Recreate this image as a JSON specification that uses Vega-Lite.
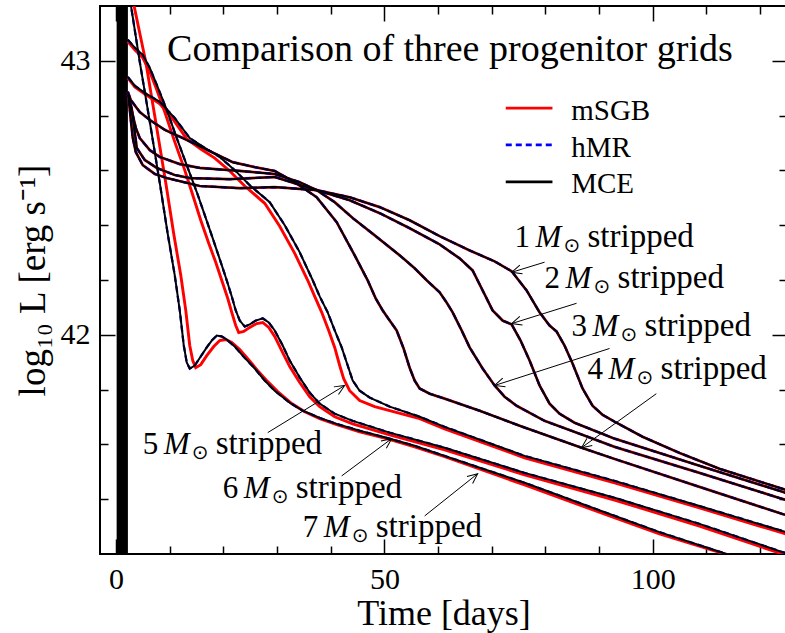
{
  "$schema": "https://vega.github.io/schema/vega-lite/v6.json",
  "width": 687,
  "height": 548,
  "autosize": {"type": "none"},
  "padding": {"left": 100, "top": 6, "right": 0, "bottom": 79},
  "background": "white",
  "config": {
    "view": {"stroke": "black", "strokeWidth": 2},
    "font": "Liberation Serif",
    "axis": {
      "domain": false,
      "grid": false,
      "labelOverlap": false,
      "labelBound": false,
      "labelFlush": false,
      "tickColor": "black",
      "tickWidth": 1.5,
      "labelFont": "Liberation Serif",
      "labelFontSize": 30,
      "labelColor": "black",
      "titleFont": "Liberation Serif",
      "titleFontSize": 36,
      "titleFontWeight": "normal",
      "titleColor": "black",
      "zindex": 1
    }
  },
  "datasets": {
    "mce": [
      {"m":1,"t":2.37,"L":42.857},{"m":1,"t":2.74,"L":42.784},{"m":1,"t":3.11,"L":42.718},{"m":1,"t":3.67,"L":42.667},{"m":1,"t":4.97,"L":42.619},{"m":1,"t":7.21,"L":42.587},{"m":1,"t":9.44,"L":42.572},{"m":1,"t":15.59,"L":42.543},{"m":1,"t":23.04,"L":42.535},{"m":1,"t":29.55,"L":42.539},{"m":1,"t":37.37,"L":42.528},{"m":1,"t":43.52,"L":42.502},{"m":1,"t":49.11,"L":42.466},{"m":1,"t":54.69,"L":42.418},{"m":1,"t":60.28,"L":42.36},{"m":1,"t":65.87,"L":42.308},{"m":1,"t":70.52,"L":42.268},{"m":1,"t":73.69,"L":42.232},{"m":1,"t":76.48,"L":42.162},{"m":1,"t":78.9,"L":42.082},{"m":1,"t":80.76,"L":42.034},{"m":1,"t":82.07,"L":42.012},{"m":1,"t":83.55,"L":41.961},{"m":1,"t":85.05,"L":41.895},{"m":1,"t":86.91,"L":41.804},{"m":1,"t":88.77,"L":41.741},{"m":1,"t":90.63,"L":41.708},{"m":1,"t":92.87,"L":41.683},{"m":1,"t":98.08,"L":41.628},{"m":1,"t":104.97,"L":41.569},{"m":1,"t":112.42,"L":41.511},{"m":1,"t":124.15,"L":41.438},{"m":1,"t":125.46,"L":41.43},
      {"m":2,"t":2.37,"L":42.865},{"m":2,"t":2.92,"L":42.821},{"m":2,"t":3.3,"L":42.766},{"m":2,"t":3.85,"L":42.682},{"m":2,"t":5.34,"L":42.638},{"m":2,"t":7.58,"L":42.609},{"m":2,"t":10.93,"L":42.583},{"m":2,"t":13.72,"L":42.572},{"m":2,"t":21.17,"L":42.568},{"m":2,"t":29.55,"L":42.576},{"m":2,"t":37.37,"L":42.528},{"m":2,"t":43.52,"L":42.491},{"m":2,"t":49.11,"L":42.444},{"m":2,"t":54.69,"L":42.389},{"m":2,"t":60.28,"L":42.33},{"m":2,"t":64.0,"L":42.279},{"m":2,"t":66.42,"L":42.235},{"m":2,"t":68.29,"L":42.162},{"m":2,"t":70.15,"L":42.089},{"m":2,"t":72.01,"L":42.052},{"m":2,"t":73.69,"L":42.038},{"m":2,"t":75.36,"L":41.979},{"m":2,"t":77.04,"L":41.906},{"m":2,"t":78.9,"L":41.815},{"m":2,"t":80.76,"L":41.749},{"m":2,"t":82.62,"L":41.712},{"m":2,"t":85.42,"L":41.679},{"m":2,"t":92.87,"L":41.621},{"m":2,"t":108.69,"L":41.522},{"m":2,"t":124.15,"L":41.427},{"m":2,"t":125.46,"L":41.419},
      {"m":3,"t":2.18,"L":42.876},{"m":3,"t":2.74,"L":42.839},{"m":3,"t":3.11,"L":42.802},{"m":3,"t":3.67,"L":42.755},{"m":3,"t":4.41,"L":42.718},{"m":3,"t":6.28,"L":42.674},{"m":3,"t":8.14,"L":42.649},{"m":3,"t":11.86,"L":42.623},{"m":3,"t":15.59,"L":42.609},{"m":3,"t":23.04,"L":42.598},{"m":3,"t":29.55,"L":42.587},{"m":3,"t":34.21,"L":42.557},{"m":3,"t":37.37,"L":42.528},{"m":3,"t":40.73,"L":42.484},{"m":3,"t":44.08,"L":42.426},{"m":3,"t":48.18,"L":42.363},{"m":3,"t":52.83,"L":42.29},{"m":3,"t":55.62,"L":42.243},{"m":3,"t":57.86,"L":42.199},{"m":3,"t":60.28,"L":42.155},{"m":3,"t":61.58,"L":42.118},{"m":3,"t":62.7,"L":42.082},{"m":3,"t":64.38,"L":42.016},{"m":3,"t":65.87,"L":41.954},{"m":3,"t":68.29,"L":41.877},{"m":3,"t":70.52,"L":41.815},{"m":3,"t":72.38,"L":41.774},{"m":3,"t":74.62,"L":41.741},{"m":3,"t":79.83,"L":41.686},{"m":3,"t":86.35,"L":41.639},{"m":3,"t":92.87,"L":41.591},{"m":3,"t":108.69,"L":41.496},{"m":3,"t":124.15,"L":41.401},{"m":3,"t":125.46,"L":41.394},
      {"m":4,"t":2.18,"L":42.887},{"m":4,"t":2.74,"L":42.857},{"m":4,"t":4.41,"L":42.813},{"m":4,"t":6.28,"L":42.784},{"m":4,"t":9.07,"L":42.748},{"m":4,"t":12.42,"L":42.718},{"m":4,"t":17.08,"L":42.674},{"m":4,"t":21.73,"L":42.63},{"m":4,"t":25.83,"L":42.612},{"m":4,"t":29.55,"L":42.598},{"m":4,"t":33.28,"L":42.557},{"m":4,"t":37.37,"L":42.502},{"m":4,"t":41.1,"L":42.411},{"m":4,"t":44.45,"L":42.29},{"m":4,"t":46.87,"L":42.199},{"m":4,"t":48.36,"L":42.133},{"m":4,"t":49.67,"L":42.089},{"m":4,"t":50.97,"L":42.052},{"m":4,"t":52.27,"L":42.016},{"m":4,"t":53.57,"L":41.95},{"m":4,"t":54.69,"L":41.88},{"m":4,"t":55.62,"L":41.833},{"m":4,"t":56.56,"L":41.804},{"m":4,"t":58.42,"L":41.785},{"m":4,"t":61.21,"L":41.767},{"m":4,"t":67.73,"L":41.723},{"m":4,"t":75.18,"L":41.668},{"m":4,"t":86.72,"L":41.588},{"m":4,"t":92.87,"L":41.547},{"m":4,"t":108.69,"L":41.445},{"m":4,"t":124.15,"L":41.346},{"m":4,"t":125.46,"L":41.339},
      {"m":5,"t":2.18,"L":42.941},{"m":5,"t":3.48,"L":42.909},{"m":5,"t":5.34,"L":42.883},{"m":5,"t":8.14,"L":42.85},{"m":5,"t":10.93,"L":42.791},{"m":5,"t":13.72,"L":42.718},{"m":5,"t":16.52,"L":42.682},{"m":5,"t":19.31,"L":42.649},{"m":5,"t":22.1,"L":42.601},{"m":5,"t":24.9,"L":42.546},{"m":5,"t":28.62,"L":42.484},{"m":5,"t":31.42,"L":42.4},{"m":5,"t":34.21,"L":42.301},{"m":5,"t":36.63,"L":42.199},{"m":5,"t":37.93,"L":42.14},{"m":5,"t":39.42,"L":42.082},{"m":5,"t":40.73,"L":42.016},{"m":5,"t":42.03,"L":41.954},{"m":5,"t":43.15,"L":41.888},{"m":5,"t":44.08,"L":41.833},{"m":5,"t":45.38,"L":41.796},{"m":5,"t":47.25,"L":41.771},{"m":5,"t":50.97,"L":41.738},{"m":5,"t":56.56,"L":41.701},{"m":5,"t":61.21,"L":41.664},{"m":5,"t":76.11,"L":41.558},{"m":5,"t":92.87,"L":41.467},{"m":5,"t":108.69,"L":41.375},{"m":5,"t":124.15,"L":41.284},{"m":5,"t":125.46,"L":41.277},
      {"m":6,"t":2.18,"L":43.077},{"m":6,"t":3.48,"L":43.048},{"m":6,"t":4.97,"L":43.022},{"m":6,"t":6.28,"L":42.974},{"m":6,"t":7.58,"L":42.912},{"m":6,"t":9.44,"L":42.821},{"m":6,"t":11.3,"L":42.718},{"m":6,"t":13.16,"L":42.619},{"m":6,"t":15.03,"L":42.521},{"m":6,"t":16.52,"L":42.437},{"m":6,"t":18.01,"L":42.352},{"m":6,"t":19.31,"L":42.276},{"m":6,"t":20.61,"L":42.199},{"m":6,"t":21.55,"L":42.14},{"m":6,"t":22.29,"L":42.089},{"m":6,"t":23.04,"L":42.052},{"m":6,"t":23.97,"L":42.03},{"m":6,"t":24.9,"L":42.038},{"m":6,"t":26.02,"L":42.052},{"m":6,"t":27.32,"L":42.06},{"m":6,"t":28.44,"L":42.045},{"m":6,"t":29.55,"L":42.016},{"m":6,"t":31.04,"L":41.961},{"m":6,"t":32.35,"L":41.906},{"m":6,"t":34.21,"L":41.844},{"m":6,"t":36.07,"L":41.789},{"m":6,"t":37.93,"L":41.749},{"m":6,"t":40.73,"L":41.712},{"m":6,"t":44.08,"L":41.686},{"m":6,"t":50.97,"L":41.643},{"m":6,"t":61.21,"L":41.588},{"m":6,"t":76.11,"L":41.496},{"m":6,"t":92.87,"L":41.405},{"m":6,"t":108.69,"L":41.31},{"m":6,"t":124.15,"L":41.207},{"m":6,"t":125.46,"L":41.2},
      {"m":7,"t":2.37,"L":43.296},{"m":7,"t":2.74,"L":43.205},{"m":7,"t":4.41,"L":42.996},{"m":7,"t":6.28,"L":42.777},{"m":7,"t":8.14,"L":42.554},{"m":7,"t":9.63,"L":42.367},{"m":7,"t":10.93,"L":42.217},{"m":7,"t":11.86,"L":42.089},{"m":7,"t":12.61,"L":41.961},{"m":7,"t":13.16,"L":41.899},{"m":7,"t":13.72,"L":41.877},{"m":7,"t":14.66,"L":41.888},{"m":7,"t":15.77,"L":41.921},{"m":7,"t":16.89,"L":41.954},{"m":7,"t":17.82,"L":41.979},{"m":7,"t":18.75,"L":41.997},{"m":7,"t":19.68,"L":41.994},{"m":7,"t":20.61,"L":41.983},{"m":7,"t":22.1,"L":41.957},{"m":7,"t":23.59,"L":41.924},{"m":7,"t":25.83,"L":41.877},{"m":7,"t":27.69,"L":41.833},{"m":7,"t":29.55,"L":41.796},{"m":7,"t":32.35,"L":41.752},{"m":7,"t":34.77,"L":41.723},{"m":7,"t":37.93,"L":41.697},{"m":7,"t":41.1,"L":41.675},{"m":7,"t":45.38,"L":41.65},{"m":7,"t":50.41,"L":41.624},{"m":7,"t":55.62,"L":41.595},{"m":7,"t":61.21,"L":41.558},{"m":7,"t":76.11,"L":41.46},{"m":7,"t":91.93,"L":41.346},{"m":7,"t":101.24,"L":41.28},{"m":7,"t":113.72,"L":41.2},{"m":7,"t":117.07,"L":41.174}
    ],
    "msgb": [
      {"m":5,"t":2.18,"L":42.938},{"m":5,"t":3.48,"L":42.905},{"m":5,"t":5.34,"L":42.879},{"m":5,"t":8.14,"L":42.843},{"m":5,"t":10.56,"L":42.788},{"m":5,"t":13.16,"L":42.715},{"m":5,"t":15.77,"L":42.678},{"m":5,"t":18.38,"L":42.645},{"m":5,"t":21.17,"L":42.598},{"m":5,"t":23.97,"L":42.543},{"m":5,"t":27.69,"L":42.48},{"m":5,"t":30.48,"L":42.396},{"m":5,"t":33.28,"L":42.297},{"m":5,"t":35.7,"L":42.199},{"m":5,"t":37.0,"L":42.14},{"m":5,"t":38.31,"L":42.082},{"m":5,"t":39.61,"L":42.016},{"m":5,"t":40.73,"L":41.954},{"m":5,"t":41.66,"L":41.888},{"m":5,"t":42.4,"L":41.84},{"m":5,"t":43.52,"L":41.796},{"m":5,"t":45.38,"L":41.76},{"m":5,"t":48.18,"L":41.738},{"m":5,"t":50.97,"L":41.723},{"m":5,"t":56.56,"L":41.694},{"m":5,"t":61.21,"L":41.657},{"m":5,"t":76.11,"L":41.551},{"m":5,"t":92.87,"L":41.46},{"m":5,"t":108.69,"L":41.368},{"m":5,"t":124.15,"L":41.277},{"m":5,"t":125.46,"L":41.269},
      {"m":6,"t":2.18,"L":43.07},{"m":6,"t":3.48,"L":43.04},{"m":6,"t":4.97,"L":43.011},{"m":6,"t":6.28,"L":42.96},{"m":6,"t":7.58,"L":42.894},{"m":6,"t":9.07,"L":42.813},{"m":6,"t":10.93,"L":42.704},{"m":6,"t":12.79,"L":42.601},{"m":6,"t":14.28,"L":42.51},{"m":6,"t":15.77,"L":42.418},{"m":6,"t":17.26,"L":42.334},{"m":6,"t":18.56,"L":42.265},{"m":6,"t":19.68,"L":42.199},{"m":6,"t":20.8,"L":42.133},{"m":6,"t":21.55,"L":42.082},{"m":6,"t":22.29,"L":42.034},{"m":6,"t":22.85,"L":42.008},{"m":6,"t":23.78,"L":42.012},{"m":6,"t":24.9,"L":42.027},{"m":6,"t":26.2,"L":42.041},{"m":6,"t":27.32,"L":42.045},{"m":6,"t":28.44,"L":42.027},{"m":6,"t":29.55,"L":41.994},{"m":6,"t":31.04,"L":41.935},{"m":6,"t":32.35,"L":41.884},{"m":6,"t":34.21,"L":41.826},{"m":6,"t":36.07,"L":41.774},{"m":6,"t":37.93,"L":41.738},{"m":6,"t":40.73,"L":41.701},{"m":6,"t":44.08,"L":41.675},{"m":6,"t":50.97,"L":41.635},{"m":6,"t":61.21,"L":41.58},{"m":6,"t":76.11,"L":41.489},{"m":6,"t":92.87,"L":41.397},{"m":6,"t":108.69,"L":41.302},{"m":6,"t":124.15,"L":41.2},{"m":6,"t":125.46,"L":41.192},
      {"m":7,"t":2.74,"L":43.296},{"m":7,"t":3.3,"L":43.205},{"m":7,"t":5.53,"L":42.996},{"m":7,"t":7.39,"L":42.777},{"m":7,"t":9.26,"L":42.554},{"m":7,"t":10.75,"L":42.367},{"m":7,"t":12.05,"L":42.217},{"m":7,"t":12.98,"L":42.089},{"m":7,"t":13.72,"L":41.961},{"m":7,"t":14.28,"L":41.906},{"m":7,"t":14.84,"L":41.88},{"m":7,"t":15.77,"L":41.891},{"m":7,"t":16.89,"L":41.924},{"m":7,"t":18.19,"L":41.957},{"m":7,"t":19.31,"L":41.979},{"m":7,"t":20.43,"L":41.983},{"m":7,"t":21.55,"L":41.972},{"m":7,"t":23.04,"L":41.946},{"m":7,"t":24.53,"L":41.913},{"m":7,"t":26.39,"L":41.869},{"m":7,"t":28.25,"L":41.829},{"m":7,"t":30.11,"L":41.793},{"m":7,"t":32.72,"L":41.749},{"m":7,"t":35.14,"L":41.719},{"m":7,"t":37.93,"L":41.694},{"m":7,"t":41.1,"L":41.672},{"m":7,"t":45.38,"L":41.646},{"m":7,"t":50.41,"L":41.621},{"m":7,"t":55.62,"L":41.591},{"m":7,"t":61.21,"L":41.555},{"m":7,"t":76.11,"L":41.452},{"m":7,"t":91.93,"L":41.339},{"m":7,"t":101.24,"L":41.273},{"m":7,"t":114.09,"L":41.196},{"m":7,"t":117.07,"L":41.174}
    ],
    "band": [{"t":0.1,"t2":2.2,"L":41.2,"L2":43.2}],
    "key": [
      {"grid":"mSGB","t":72.6,"t2":81.3,"L":42.827,"tl":84.8,"Lt":42.784},
      {"grid":"hMR","t":72.6,"t2":81.3,"L":42.693,"tl":84.8,"Lt":42.649},
      {"grid":"MCE","t":72.6,"t2":81.3,"L":42.558,"tl":84.8,"Lt":42.517}
    ],
    "heading": [{"t":62.2,"L":43.0,"label":"Comparison of three progenitor grids"}],
    "notes": [
      {"m":1,"t":74.23,"L":42.319},
      {"m":2,"t":79.83,"L":42.169},
      {"m":3,"t":84.86,"L":41.997},
      {"m":4,"t":87.84,"L":41.84},
      {"m":5,"t":4.97,"L":41.566},
      {"m":6,"t":19.87,"L":41.405},
      {"m":7,"t":34.77,"L":41.262}
    ],
    "arrows": [
      {"m":1,"t":79.83,"L":42.265,"t2":73.69,"L2":42.228},
      {"m":2,"t":85.79,"L":42.115,"t2":73.69,"L2":42.041},
      {"m":3,"t":91.93,"L":41.95,"t2":70.52,"L2":41.815},
      {"m":4,"t":100.65,"L":41.785,"t2":86.72,"L2":41.588},
      {"m":5,"t":28.25,"L":41.643,"t2":42.59,"L2":41.815},
      {"m":6,"t":42.03,"L":41.485,"t2":51.34,"L2":41.621},
      {"m":7,"t":57.49,"L":41.339,"t2":67.36,"L2":41.493}
    ]
  },
  "encoding": {
    "x": {"field": "t", "type": "quantitative", "scale": {"domain": [-3, 125], "nice": false, "zero": false}, "axis": null},
    "y": {"field": "L", "type": "quantitative", "scale": {"domain": [41.2, 43.2], "nice": false, "zero": false}, "axis": null}
  },
  "layer": [
    {
      "data": {"name": "band"},
      "mark": {"type": "rect", "color": "black", "clip": true},
      "encoding": {
        "x": {
          "field": "t", "type": "quantitative",
          "scale": {"domain": [-3, 125], "nice": false, "zero": false},
          "axis": {
            "orient": "bottom",
            "values": [0, 10, 20, 30, 40, 50, 60, 70, 80, 90, 100, 110, 120],
            "labelExpr": "datum.value % 50 === 0 ? datum.label : ''",
            "labelOverlap": false,
            "tickSize": {"condition": {"test": "datum.value % 50 === 0", "value": -15}, "value": -8},
            "labelPadding": 25,
            "title": "Time [days]",
            "titleBaseline": "alphabetic",
            "titleY": 70
          }
        },
        "x2": {"field": "t2"},
        "y2": {"field": "L2"}
      }
    },
    {
      "data": {"name": "mce"},
      "transform": [{"filter": "datum.m <= 4"}],
      "mark": {"type": "line", "color": "#ff0000", "strokeWidth": 2.7, "clip": true},
      "encoding": {
        "x": {
          "field": "t", "type": "quantitative",
          "scale": {"domain": [-3, 125], "nice": false, "zero": false},
          "axis": {
            "orient": "top",
            "values": [0, 10, 20, 30, 40, 50, 60, 70, 80, 90, 100, 110, 120],
            "labels": false,
            "tickSize": {"condition": {"test": "datum.value % 50 === 0", "value": -15}, "value": -8},
            "title": null
          }
        },
        "y": {
          "field": "L", "type": "quantitative",
          "scale": {"domain": [41.2, 43.2], "nice": false, "zero": false},
          "axis": {
            "orient": "left",
            "values": [41.4, 41.6, 41.8, 42, 42.2, 42.4, 42.6, 42.8, 43],
            "labelExpr": "abs(datum.value - round(datum.value)) < 0.01 ? format(datum.value, 'd') : ''",
            "labelOverlap": false,
            "tickSize": {"condition": {"test": "abs(datum.value - round(datum.value)) < 0.01", "value": -15}, "value": -8},
            "labelPadding": 25,
            "title": "log₁₀ L [erg s⁻¹]",
            "titleFontSize": 37,
            "titlePadding": 8
          }
        },
        "detail": {"field": "m"}
      }
    },
    {
      "data": {"name": "msgb"},
      "mark": {"type": "line", "color": "#ff0000", "strokeWidth": 2.9, "clip": true},
      "encoding": {
        "y": {
          "field": "L", "type": "quantitative",
          "scale": {"domain": [41.2, 43.2], "nice": false, "zero": false},
          "axis": {
            "orient": "right",
            "values": [41.4, 41.6, 41.8, 42, 42.2, 42.4, 42.6, 42.8, 43],
            "labels": false,
            "tickSize": {"condition": {"test": "abs(datum.value - round(datum.value)) < 0.01", "value": -15}, "value": -8},
            "title": null
          }
        },
        "detail": {"field": "m"}
      }
    },
    {
      "data": {"name": "mce"},
      "mark": {"type": "line", "color": "#0000ff", "strokeWidth": 2.3, "strokeDash": [6, 4], "clip": true},
      "encoding": {"detail": {"field": "m"}}
    },
    {
      "data": {"name": "mce"},
      "mark": {"type": "line", "color": "black", "strokeWidth": 2.0, "clip": true},
      "encoding": {"detail": {"field": "m"}}
    },
    {
      "data": {"name": "key"},
      "mark": {"type": "rule", "strokeWidth": 2.8},
      "encoding": {
        "x2": {"field": "t2"},
        "color": {"field": "grid", "type": "nominal", "scale": {"domain": ["mSGB", "hMR", "MCE"], "range": ["#ff0000", "#0000ff", "black"]}, "legend": null},
        "strokeDash": {"field": "grid", "type": "nominal", "scale": {"domain": ["mSGB", "hMR", "MCE"], "range": [[1, 0], [6, 4], [1, 0]]}, "legend": null}
      }
    },
    {
      "data": {"name": "key"},
      "mark": {"type": "text", "align": "left", "baseline": "alphabetic", "fontSize": 29, "font": "Liberation Serif", "color": "black"},
      "encoding": {
        "x": {"field": "tl", "type": "quantitative"},
        "y": {"field": "Lt", "type": "quantitative"},
        "text": {"field": "grid"}
      }
    },
    {
      "data": {"name": "heading"},
      "mark": {"type": "text", "align": "center", "baseline": "alphabetic", "fontSize": 38, "font": "Liberation Serif", "color": "black"},
      "encoding": {"text": {"field": "label"}}
    },
    {
      "data": {"name": "notes"},
      "mark": {"type": "text", "align": "left", "baseline": "alphabetic", "fontSize": 31, "font": "Liberation Serif", "color": "black"},
      "encoding": {"text": {"field": "m"}}
    },
    {
      "data": {"name": "notes"},
      "mark": {"type": "text", "align": "left", "baseline": "alphabetic", "fontSize": 31, "fontStyle": "italic", "font": "Liberation Serif", "color": "black", "dx": 21},
      "encoding": {"text": {"value": "M"}}
    },
    {
      "data": {"name": "notes"},
      "mark": {"type": "text", "align": "left", "baseline": "alphabetic", "fontSize": 20, "font": "DejaVu Sans", "color": "black", "dx": 49, "dy": 5},
      "encoding": {"text": {"value": "⊙"}}
    },
    {
      "data": {"name": "notes"},
      "mark": {"type": "text", "align": "left", "baseline": "alphabetic", "fontSize": 33, "font": "Liberation Serif", "color": "black", "dx": 73},
      "encoding": {"text": {"value": "stripped"}}
    },
    {
      "data": {"name": "arrows"},
      "mark": {"type": "rule", "color": "black", "strokeWidth": 1},
      "encoding": {"x2": {"field": "t2"}, "y2": {"field": "L2"}}
    },
    {
      "data": {"name": "arrows"},
      "transform": [
        {"calculate": "atan2(-(datum.L2 - datum.L) * 274, (datum.t2 - datum.t) * 5.367) * 180 / PI", "as": "ang"}
      ],
      "mark": {"type": "point", "shape": "M-1,-0.45L0,0L-1,0.45", "size": 400, "filled": false, "stroke": "black", "strokeWidth": 1, "opacity": 1},
      "encoding": {
        "x": {"field": "t2", "type": "quantitative"},
        "y": {"field": "L2", "type": "quantitative"},
        "angle": {"field": "ang", "type": "quantitative", "scale": null}
      }
    }
  ],
  "resolve": {"axis": {"x": "independent", "y": "independent"}}
}
